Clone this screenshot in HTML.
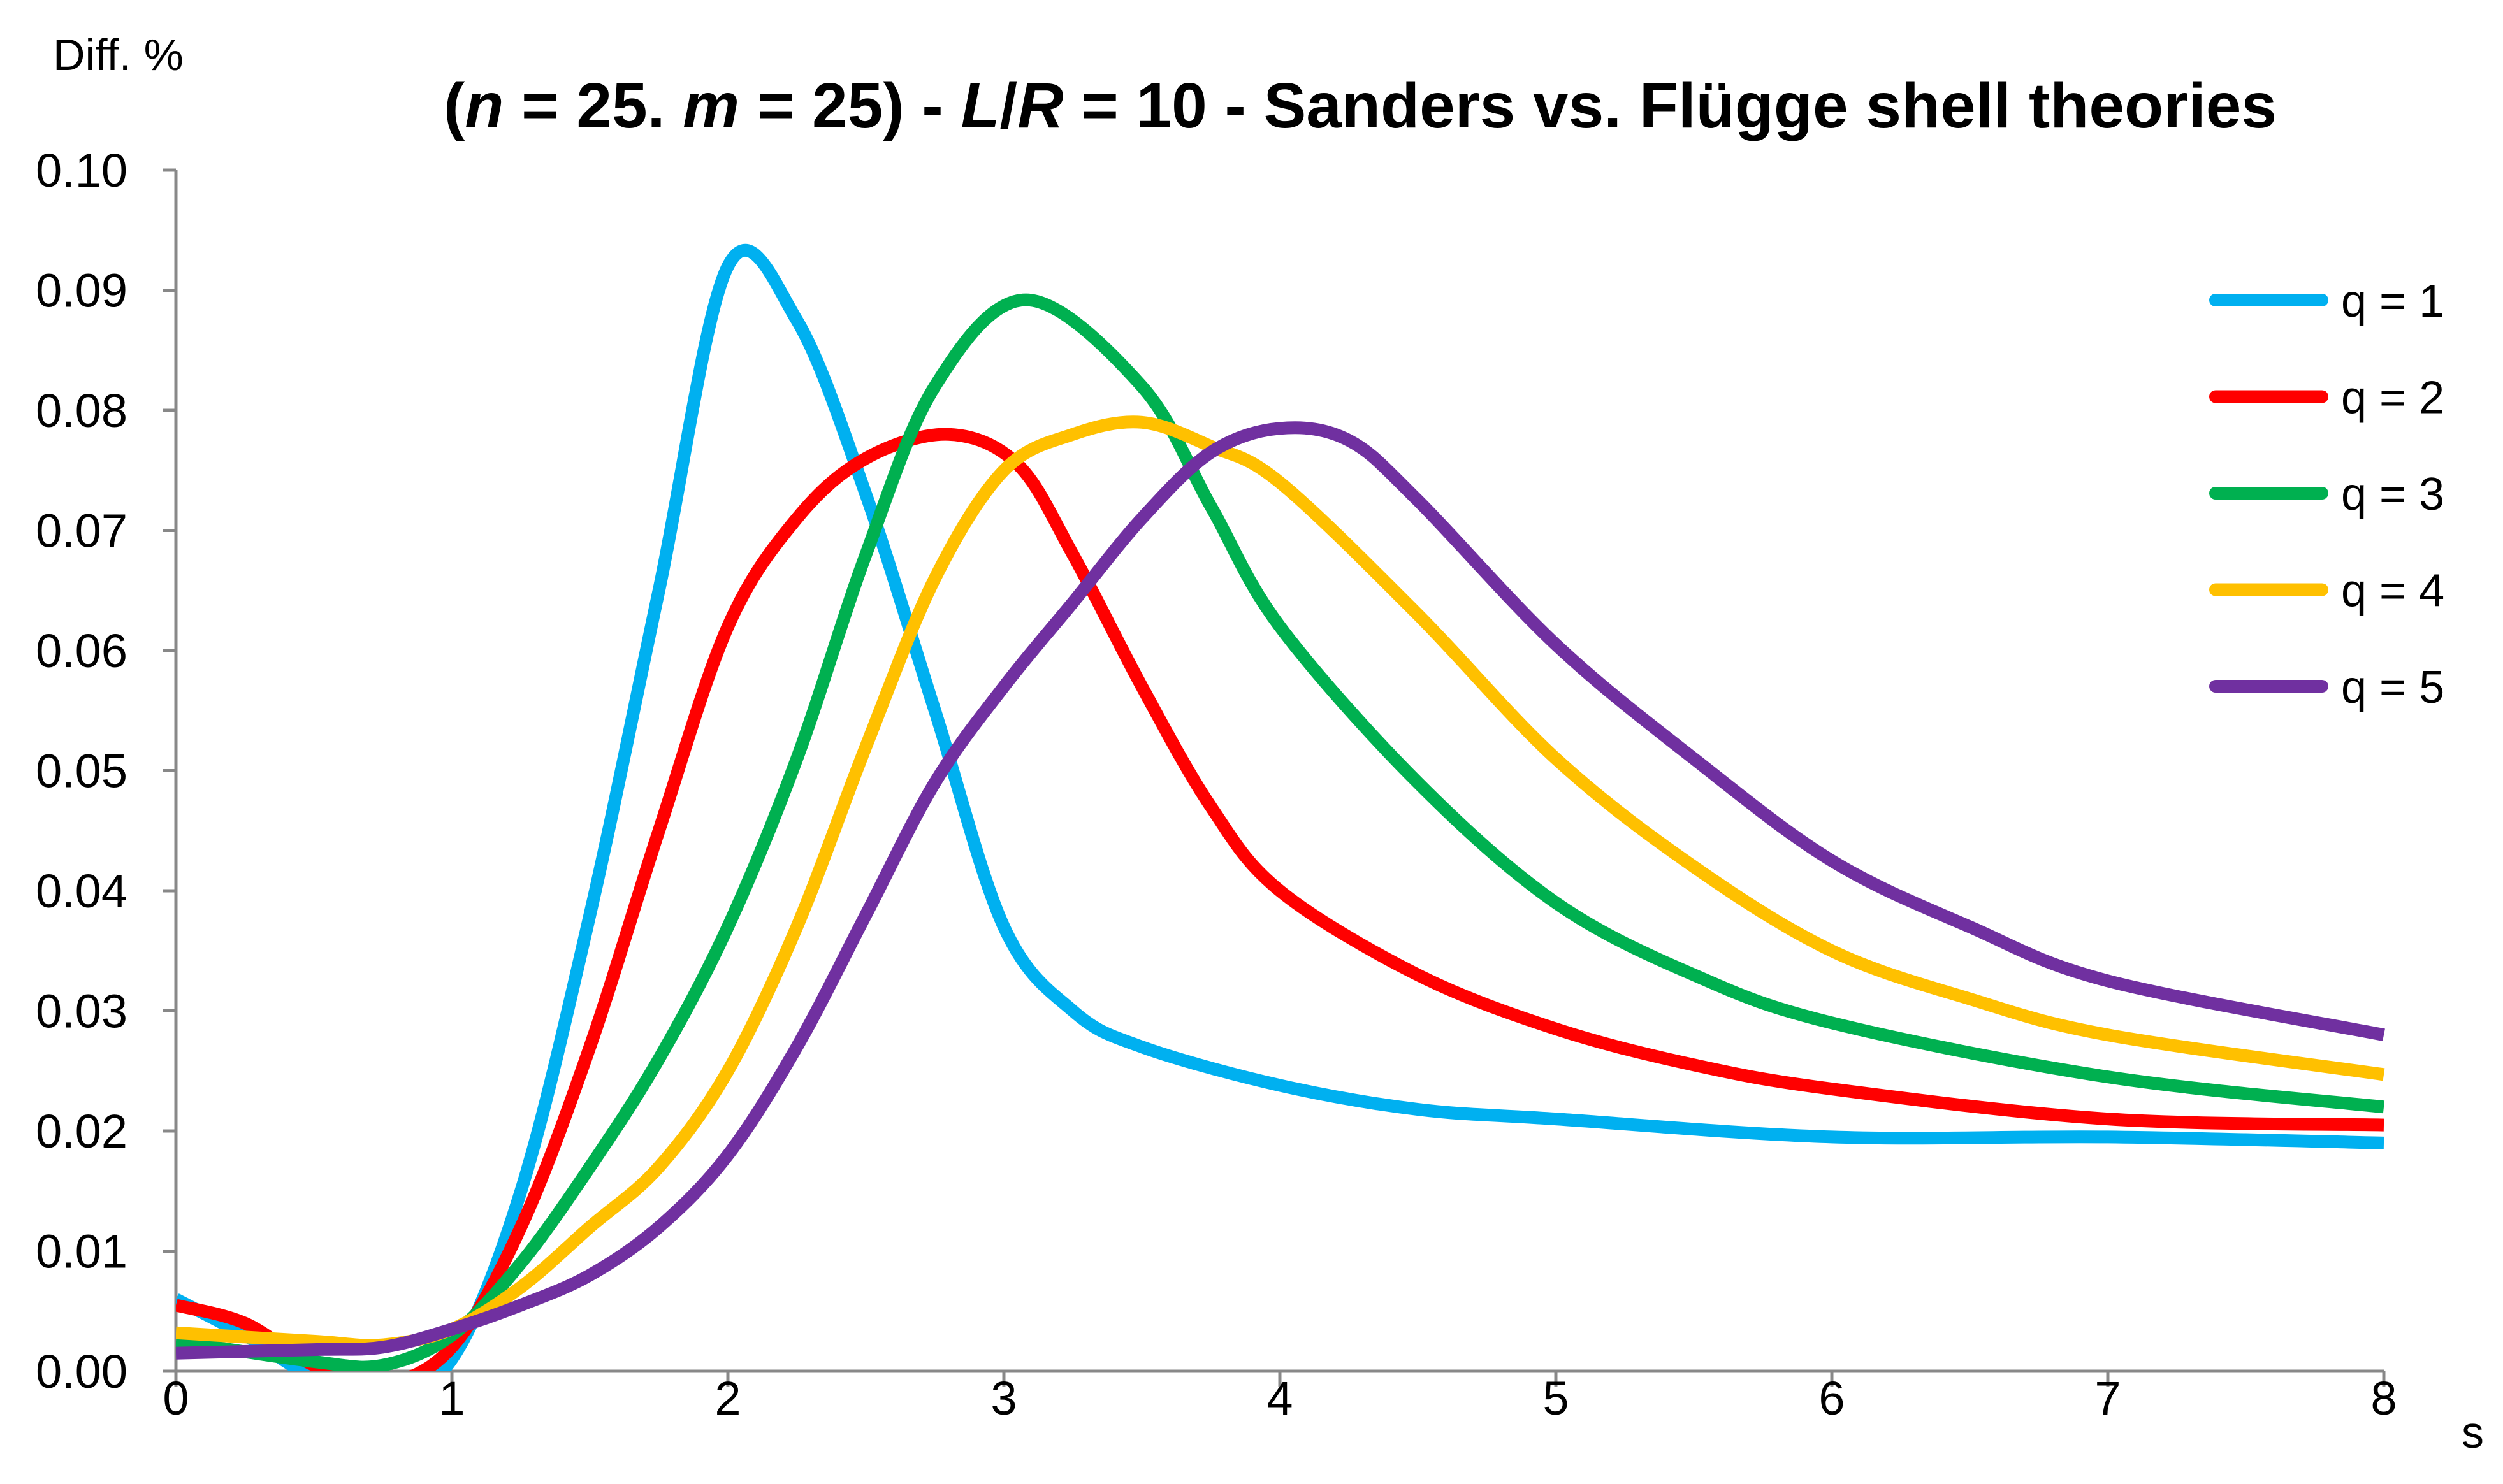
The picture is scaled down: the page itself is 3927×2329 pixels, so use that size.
<!DOCTYPE html>
<html><head><meta charset="utf-8"><style>
html,body{margin:0;padding:0;background:#fff;}
svg{display:block;font-family:"Liberation Sans","DejaVu Sans",sans-serif;}
</style></head><body>
<svg id="chart" width="3927" height="2329" viewBox="0 0 3927 2329">
<defs><clipPath id="plot"><rect x="276" y="200" width="3470" height="1952"/></clipPath></defs>
<text x="2134" y="200" text-anchor="middle" font-size="100" font-weight="bold">(<tspan font-style="italic">n</tspan> = 25. <tspan font-style="italic">m</tspan> = 25) - <tspan font-style="italic">L</tspan>/<tspan font-style="italic">R</tspan> = 10 - Sanders vs. Flügge shell theories</text>
<text x="83" y="110" font-size="70">Diff. %</text>
<text x="3862" y="2272" font-size="70">s</text>
<g id="axes"></g>
<g id="series" clip-path="url(#plot)"></g>
<g id="legend"></g>
</svg>
<script>
const xTicks = [0,1,2,3,4,5,6,7,8];
const yTicks = [0,0.01,0.02,0.03,0.04,0.05,0.06,0.07,0.08,0.09,0.10];
const seriesNames = ["q = 1","q = 2","q = 3","q = 4","q = 5"];
const seriesColors = ["#00b0f0","#ff0000","#00b050","#ffc000","#7030a0"];
const xs1 = [0,0.25,0.5,0.75,1,1.25,1.5,1.75,2,2.25,2.5,2.75,3,3.25,3.5,4,4.5,5,6,7,8];
const ys1 = [0.006,0.003,-0.0005,-0.002,0.001,0.015,0.038,0.065,0.092,0.0875,0.073,0.055,0.037,0.03,0.027,0.0238,0.0218,0.021,0.0195,0.0195,0.019];
const xs2 = [0,0.25,0.5,0.75,1,1.25,1.5,1.75,2,2.25,2.5,2.8,3.05,3.25,3.5,3.75,4,4.5,5,5.5,6,7,8];
const ys2 = [0.0055,0.004,0.0005,-0.001,0.002,0.012,0.027,0.045,0.062,0.071,0.076,0.078,0.0755,0.068,0.057,0.047,0.040,0.033,0.0285,0.0255,0.0235,0.021,0.0205];
const xs3 = [0,0.5,0.75,1,1.25,1.5,1.75,2,2.25,2.5,2.75,3.08,3.5,3.75,4,4.5,5,5.5,6,7,8];
const ys3 = [0.0025,0.0008,0.0005,0.003,0.009,0.017,0.026,0.037,0.051,0.068,0.082,0.0892,0.082,0.072,0.062,0.049,0.039,0.033,0.029,0.0245,0.022];
const xs4 = [0,0.5,0.75,1,1.25,1.5,1.75,2,2.25,2.5,2.75,3,3.25,3.5,3.75,4,4.5,5,5.5,6,6.5,7,8];
const ys4 = [0.0032,0.0025,0.0022,0.0035,0.007,0.012,0.017,0.025,0.037,0.052,0.066,0.075,0.078,0.079,0.077,0.074,0.063,0.051,0.042,0.035,0.031,0.028,0.0247];
const xs5 = [0,0.5,0.75,1,1.25,1.5,1.75,2,2.25,2.5,2.75,3,3.25,3.5,3.75,4,4.25,4.5,5,5.5,6,6.5,7,8];
const ys5 = [0.0015,0.0018,0.002,0.0035,0.0055,0.008,0.012,0.018,0.027,0.038,0.049,0.057,0.064,0.071,0.0765,0.0785,0.0775,0.0725,0.0605,0.051,0.0425,0.037,0.0325,0.028];

const X0=276, X1=3740, Y0=2152, Y1=267;
function sx(v){return X0+(X1-X0)*v/8;}
function sy(v){return Y0-(Y0-Y1)*v/0.10;}
const NS="http://www.w3.org/2000/svg";
function mk(tag,attrs,parent){const e=document.createElementNS(NS,tag);for(const k in attrs)e.setAttribute(k,attrs[k]);parent.appendChild(e);return e;}
const axes=document.getElementById('axes');
let e;
e=mk('line',{x1:X0,y1:Y1,x2:X0,y2:Y0,stroke:'#888',"stroke-width":5},axes);


e=mk('line',{x1:X0,y1:Y0,x2:X1,y2:Y0,stroke:'#888',"stroke-width":5},axes);


yTicks.forEach(v=>{
  const y=sy(v);
  let t=mk('line',{x1:X0-20,y1:y,x2:X0,y2:y,stroke:'#888',"stroke-width":5},axes);
  
  
  let l=mk('text',{x:200,y:y+26,"text-anchor":"end","font-size":74},axes);
  l.textContent=v.toFixed(2);
  
  
});
xTicks.forEach(v=>{
  const x=sx(v);
  let t=mk('line',{x1:x,y1:Y0,x2:x,y2:Y0+25,stroke:'#888',"stroke-width":5},axes);
  
  
  let l=mk('text',{x:x,y:2220,"text-anchor":"middle","font-size":74},axes);
  l.textContent=String(v);
  
  
});
function smooth(pts){
  let d='M'+pts[0][0]+','+pts[0][1];
  for(let i=0;i<pts.length-1;i++){
    const p0=pts[Math.max(0,i-1)],p1=pts[i],p2=pts[i+1],p3=pts[Math.min(pts.length-1,i+2)];
    const c1=[p1[0]+(p2[0]-p0[0])/6,p1[1]+(p2[1]-p0[1])/6];
    const c2=[p2[0]-(p3[0]-p1[0])/6,p2[1]-(p3[1]-p1[1])/6];
    d+=' C'+c1[0]+','+c1[1]+' '+c2[0]+','+c2[1]+' '+p2[0]+','+p2[1];
  }
  return d;
}
const allX=[xs1,xs2,xs3,xs4,xs5], allY=[ys1,ys2,ys3,ys4,ys5];
const sg=document.getElementById('series');
allX.forEach((xs,i)=>{
  const pts=xs.map((x,j)=>[sx(x),sy(allY[i][j])]);
  const p=mk('path',{d:smooth(pts),fill:'none',stroke:seriesColors[i],"stroke-width":20,"stroke-linejoin":"round"},sg);
  
  
});
const lg=document.getElementById('legend');
seriesNames.forEach((n,i)=>{
  const y=471+i*151.5;
  const l=mk('line',{x1:3476,y1:y,x2:3643,y2:y,stroke:seriesColors[i],"stroke-width":20,"stroke-linecap":"round"},lg);
  
  
  const t=mk('text',{x:3673,y:y+26,"font-size":72},lg);
  t.textContent=n;
  
  
});
</script>
</body></html>
